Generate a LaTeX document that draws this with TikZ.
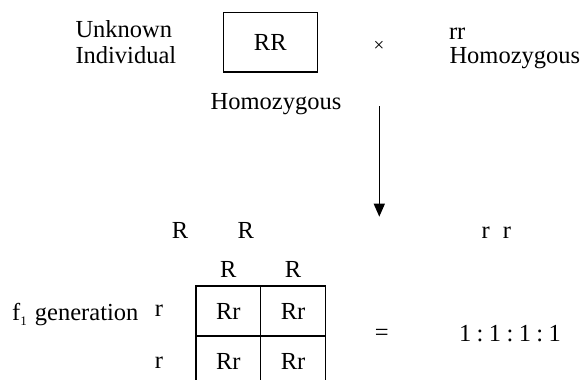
\documentclass[tikz,border=0pt]{standalone}
\usepackage{fontspec}
\setmainfont{Liberation Serif}
\usetikzlibrary{arrows.meta}
\begin{document}
\begin{tikzpicture}[x=1pt,y=-1pt,
  txt/.style={inner sep=0pt,outer sep=0pt,font=\fontsize{24.5}{26}\selectfont},
  lbl/.style={txt,anchor=base west},
  cen/.style={txt,anchor=base},
  gridline/.style={line width=1.4pt},
  arrowline/.style={line width=1.3pt,-{Triangle[length=13pt,width=11pt]}}]
\useasboundingbox (0,0) rectangle (581,380);
% top row
\node[lbl] (unk) at (75.5,37.3) {Unknown};
\node[lbl] (ind) at (75.5,63.3) {Individual};
\draw[line width=1.6pt] (223.3,12.3) rectangle (317.3,71.7);
\node[cen] (RR) at (270.3,50.5) {RR};
\node[lbl] (hom1) at (210.7,109.3) {Homozygous};
\node[txt,font=\fontsize{19}{20}\selectfont] (cross) at (379,46.5) {×};
\node[lbl] (rr) at (449,39.3) {rr};
\node[lbl] (hom2) at (449.5,63.3) {Homozygous};
% arrow
\coordinate (astart) at (379.3,106);
\coordinate (aend) at (379.3,216.7);
\draw[arrowline] (astart) -- (aend);
% gametes
\node[cen] (g1) at (180,238.3) {R};
\node[cen] (g2) at (245.7,238.3) {R};
\node[cen] (g3) at (485.7,238.3) {r};
\node[cen] (g4) at (507,238.3) {r};
% punnett headers
\node[cen] (h1) at (228.3,277.3) {R};
\node[cen] (h2) at (293,277.3) {R};
\node[cen] (v1) at (159,316.7) {r};
\node[cen] (v2) at (159,368.5) {r};
\node[lbl] (f1) at (12.2,320.5) {f\raisebox{-5pt}{\fontsize{13}{14}\selectfont 1}\kern2pt{} generation};
% grid
\draw[gridline] (196,386) -- (196,286) -- (325.5,286) -- (325.5,386);
\draw[gridline] (260.7,286) -- (260.7,386);
\draw[gridline] (196,336) -- (325.5,336);
\draw[gridline] (196,386) -- (325.5,386);
\node[cen] (c11) at (228.3,319.3) {Rr};
\node[cen] (c12) at (293,319.3) {Rr};
\node[cen] (c21) at (228.3,369.3) {Rr};
\node[cen] (c22) at (293,369.3) {Rr};
% result
\node[txt] (eq) at (381.7,335) {=};
\node[cen] (ratio) at (510,341.7) {1\kern5.4pt:\kern5.4pt1\kern5.4pt:\kern5.4pt1\kern5.4pt:\kern5.4pt1};
\end{tikzpicture}
\end{document}
